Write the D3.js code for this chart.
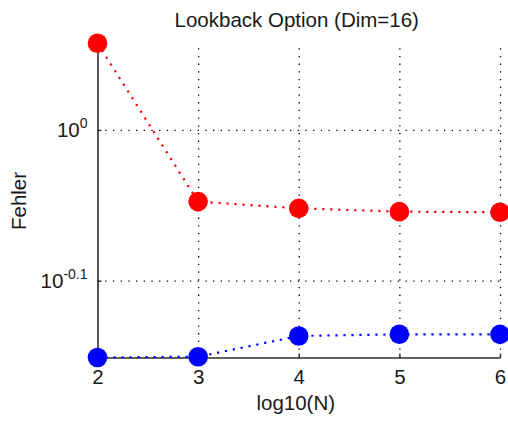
<!DOCTYPE html>
<html>
<head>
<meta charset="utf-8">
<script src="https://cdn.jsdelivr.net/npm/d3@7"></script>
<style>
  html, body { margin: 0; padding: 0; background: #fff; }
  svg { display: block; }
  text { font-family: "Liberation Sans", Arial, sans-serif; fill: #1a1a1a; }
</style>
</head>
<body>
<svg id="chart" width="508" height="421"></svg>
<script>
// Convergence of the error for the lookback option, dimension 16
const logN = [2, 3, 4, 5, 6];
const errorRed = [1.1415, 0.8963, 0.8871, 0.8827, 0.8819];
const errorBlue = [0.7064, 0.7072, 0.7300, 0.7319, 0.7318];
const xTicks = [2, 3, 4, 5, 6];
const yTicks = [1, Math.pow(10, -0.1)];
const yTickExponents = ["0", "-0.1"];

const svg = d3.select("#chart");
const plotLeft = 97.5, plotRight = 500, plotTop = 43.3, plotBottom = 357.5;

const x = d3.scaleLinear().domain([2, 6]).range([plotLeft, plotRight]);
const allValues = errorRed.concat(errorBlue);
const y = d3.scaleLog().domain([d3.min(allValues), d3.max(allValues)]).range([plotBottom, plotTop]);

// dotted grid
const grid = svg.append("g").attr("class", "grid");
grid.append("g")
  .attr("transform", `translate(0,${plotBottom})`)
  .call(d3.axisBottom(x).tickValues(xTicks.slice(1)).tickSizeInner(-(plotBottom - plotTop)).tickSizeOuter(0).tickFormat(""))
  .call(g => g.select(".domain").remove());
grid.append("g")
  .attr("transform", `translate(${plotLeft},0)`)
  .call(d3.axisLeft(y).tickValues(yTicks).tickSizeInner(-(plotRight - plotLeft)).tickSizeOuter(0).tickFormat(""))
  .call(g => g.select(".domain").remove());
grid.selectAll("line")
  .attr("stroke", "#000")
  .attr("stroke-width", 1.3)
  .attr("stroke-dasharray", "1.3,6.4");

// axes with inward ticks
const axisColor = "#2b2b2b";
const xAxis = svg.append("g")
  .attr("transform", `translate(0,${plotBottom})`)
  .call(d3.axisBottom(x).tickValues(xTicks).tickSizeInner(-4).tickSizeOuter(0).tickPadding(12).tickFormat(d3.format("d")));
const yAxis = svg.append("g")
  .attr("transform", `translate(${plotLeft},0)`)
  .call(d3.axisLeft(y).tickValues(yTicks).tickSizeInner(-4).tickSizeOuter(0).tickPadding(10).tickFormat(""));
[xAxis, yAxis].forEach(g => {
  g.attr("font-family", null).attr("font-size", null);
  g.select(".domain").attr("stroke", axisColor).attr("stroke-width", 1.6);
  g.selectAll(".tick line").attr("stroke", axisColor).attr("stroke-width", 1.4);
});
xAxis.selectAll(".tick text").style("font-size", "20.5px").attr("fill", "#1a1a1a");

// y tick labels as powers of ten
yAxis.selectAll(".tick text")
  .attr("x", -10)
  .attr("dy", "0.32em")
  .attr("text-anchor", "end")
  .attr("fill", "#1a1a1a")
  .style("font-size", "20.5px")
  .each(function(d, i) {
    const t = d3.select(this);
    t.text(null);
    t.append("tspan").text("10");
    t.append("tspan").attr("dy", "-0.62em").style("font-size", "14px").text(yTickExponents[i]);
  });

// series
const line = d3.line().x((d, i) => x(logN[i])).y(d => y(d));
const series = [
  { values: errorRed, color: "#ff0000" },
  { values: errorBlue, color: "#0000ff" }
];
series.forEach(s => {
  svg.append("path")
    .datum(s.values)
    .attr("d", line)
    .attr("fill", "none")
    .attr("stroke", s.color)
    .attr("stroke-width", 2.2)
    .attr("stroke-dasharray", "2.2,5.8");
});
series.forEach(s => {
  svg.append("g").selectAll("circle")
    .data(s.values)
    .join("circle")
    .attr("cx", (d, i) => x(logN[i]))
    .attr("cy", d => y(d))
    .attr("r", 9.8)
    .attr("fill", s.color);
});

// title and axis labels
svg.append("text")
  .attr("x", (plotLeft + plotRight) / 2 - 2)
  .attr("y", 26.5)
  .attr("text-anchor", "middle")
  .style("font-size", "20.5px")
  .text("Lookback Option (Dim=16)");
svg.append("text")
  .attr("x", (plotLeft + plotRight) / 2 - 3)
  .attr("y", 409.5)
  .attr("text-anchor", "middle")
  .style("font-size", "20.5px")
  .text("log10(N)");
svg.append("text")
  .attr("transform", "translate(26,201) rotate(-90)")
  .attr("text-anchor", "middle")
  .style("font-size", "20.5px")
  .text("Fehler");
</script>
</body>
</html>
